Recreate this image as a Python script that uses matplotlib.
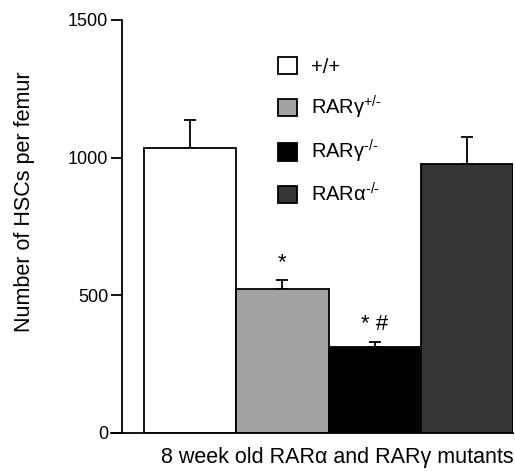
import matplotlib
matplotlib.use('Agg')
import matplotlib.pyplot as plt

plt.rcParams['font.family'] = ['Liberation Sans', 'DejaVu Sans']
plt.rcParams['mathtext.fontset'] = 'custom'
plt.rcParams['mathtext.rm'] = 'Liberation Sans'
plt.rcParams['mathtext.it'] = 'Liberation Sans'
plt.rcParams['mathtext.default'] = 'rm'

# data
groups = ['+/+', 'RARγ$^{+/\u2010}$', 'RARγ$^{\u2010/\u2010}$', 'RARα$^{\u2010/\u2010}$']
hsc_counts = [1035, 522, 313, 976]
sem = [102, 32, 16, 97]
colors = ['white', '#a3a3a3', 'black', '#353535']
marks = ['', '*', '* #', '']

fig = plt.figure(figsize=(5.15, 4.71), dpi=100)
ax = fig.add_axes([111 / 515, (471 - 432.7) / 471, (513 - 111) / 515, 412.7 / 471])

x = list(range(len(groups)))
bars = ax.bar(x, hsc_counts, width=1.0, color=colors, edgecolor='black', linewidth=1.3,
              label=groups, zorder=2)
ax.errorbar(x, hsc_counts, yerr=[[0] * len(sem), sem], fmt='none', ecolor='black',
            elinewidth=1.3, capsize=4.5, capthick=1.3, zorder=1)

for i in range(len(x)):
    if marks[i]:
        ax.text(x[i], hsc_counts[i] + sem[i] + 25, marks[i],
                ha='center', va='bottom', fontsize=16)

ax.set_xlim(-0.858, 3.5)
ax.set_ylim(0, 1500)
ax.set_yticks([0, 500, 1000, 1500])
ax.set_xticks([])
ax.spines['top'].set_visible(False)
ax.spines['right'].set_visible(False)
ax.spines['left'].set_position(('data', -0.738))
ax.spines['left'].set_linewidth(1.3)
ax.spines['bottom'].set_linewidth(1.3)
ax.tick_params(axis='y', length=8, width=1.3, labelsize=13, pad=2)

fig.text(25 / 515, 1 - 202 / 471, 'Number of HSCs per femur', rotation=90,
         ha='center', va='center', fontsize=15.5)
fig.text(337 / 515, 1 - 457 / 471, '8 week old RARα and RARγ mutants',
         ha='center', va='center', fontsize=15.5)

ax.legend(handles=bars, labels=groups, loc='upper left',
          bbox_to_anchor=(278 / 515, 1 - 57 / 471), bbox_transform=fig.transFigure,
          frameon=False, fontsize=14.5, handlelength=0.95, handleheight=0.95,
          labelspacing=0.85, handletextpad=0.7, borderpad=0, borderaxespad=0)

fig.savefig('out.png', dpi=100)
